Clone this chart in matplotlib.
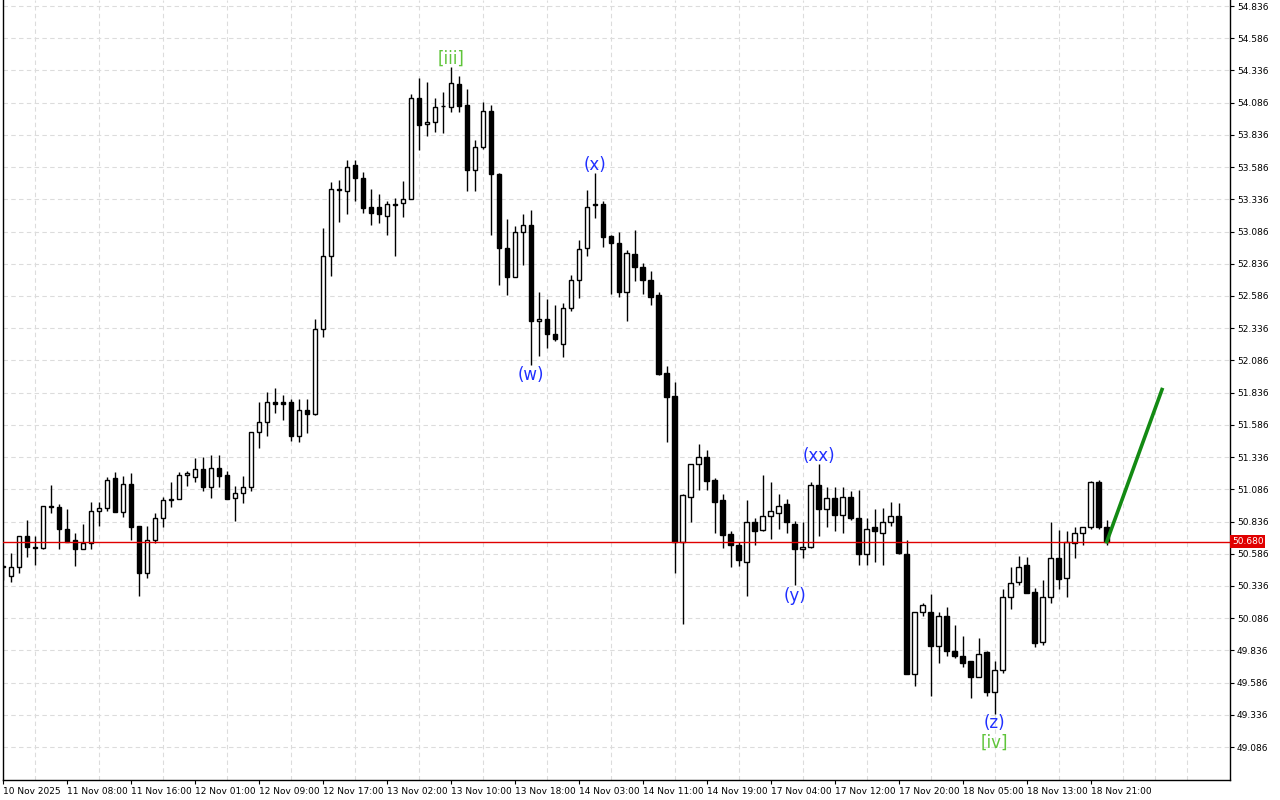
import numpy as np
import matplotlib.pyplot as plt

# hourly candles, open / high / low / close
opens = [50.48, 50.41, 50.48, 50.72, 50.64, 50.63, 50.96, 50.95, 50.78, 50.69,
         50.62, 50.67, 50.92, 50.94, 51.17, 50.91, 51.13, 50.80, 50.44, 50.69,
         50.86, 51.00, 51.01, 51.20, 51.18, 51.24, 51.10, 51.25, 51.20, 51.02,
         51.06, 51.10, 51.53, 51.61, 51.76, 51.76, 51.76, 51.50, 51.70, 51.67,
         52.33, 52.90, 53.41, 53.40, 53.60, 53.50, 53.28, 53.28, 53.21, 53.30,
         53.31, 53.34, 54.12, 53.92, 53.94, 54.06, 54.05, 54.23, 54.07, 53.56,
         53.74, 54.02, 53.53, 52.96, 52.73, 53.08, 53.14, 52.39, 52.41, 52.29,
         52.21, 52.49, 52.71, 52.96, 53.29, 53.30, 53.05, 53.00, 52.62, 52.91,
         52.81, 52.71, 52.59, 51.99, 51.81, 50.68, 51.03, 51.28, 51.34, 51.16,
         51.00, 50.74, 50.65, 50.52, 50.83, 50.77, 50.88, 50.90, 50.97, 50.82,
         50.62, 50.64, 51.12, 50.93, 51.02, 50.89, 51.03, 50.86, 50.58, 50.79,
         50.75, 50.83, 50.88, 50.58, 49.65, 50.13, 50.13, 49.87, 50.10, 49.83,
         49.79, 49.75, 49.63, 49.82, 49.51, 49.68, 50.25, 50.37, 50.50, 50.29,
         49.90, 50.25, 50.55, 50.40, 50.67, 50.75, 50.79, 51.14, 50.79]
highs = [50.50, 50.59, 50.72, 50.85, 50.72, 50.96, 51.12, 50.97, 50.93, 50.75,
         50.82, 50.99, 50.99, 51.18, 51.22, 51.19, 51.21, 50.80, 50.80, 50.90,
         51.03, 51.14, 51.22, 51.23, 51.33, 51.34, 51.35, 51.35, 51.23, 51.11,
         51.19, 51.53, 51.76, 51.84, 51.87, 51.82, 51.79, 51.79, 51.79, 52.41,
         53.11, 53.47, 53.49, 53.64, 53.64, 53.55, 53.42, 53.38, 53.32, 53.35,
         53.48, 54.15, 54.28, 54.25, 54.12, 54.17, 54.36, 54.29, 54.19, 53.80,
         54.09, 54.07, 53.54, 53.18, 53.13, 53.22, 53.25, 52.62, 52.56, 52.52,
         52.53, 52.75, 53.02, 53.41, 53.54, 53.32, 53.06, 53.08, 52.94, 53.10,
         52.84, 52.78, 52.62, 52.04, 51.92, 51.05, 51.28, 51.44, 51.39, 51.17,
         51.05, 50.76, 50.68, 51.00, 50.86, 51.20, 51.14, 51.05, 51.01, 50.84,
         50.83, 51.14, 51.28, 51.10, 51.10, 51.10, 51.07, 51.08, 50.86, 50.93,
         50.94, 50.99, 50.98, 50.69, 50.13, 50.20, 50.27, 50.13, 50.17, 50.03,
         49.95, 49.75, 49.93, 49.83, 49.75, 50.31, 50.48, 50.57, 50.56, 50.32,
         50.38, 50.83, 50.77, 50.76, 50.79, 50.79, 51.15, 51.16, 50.85]
lows = [50.38, 50.37, 50.44, 50.56, 50.50, 50.62, 50.90, 50.62, 50.68, 50.49,
        50.62, 50.62, 50.80, 50.92, 50.91, 50.87, 50.69, 50.26, 50.40, 50.67,
        50.79, 50.95, 51.01, 51.11, 51.14, 51.07, 51.02, 51.10, 51.01, 50.84,
        50.98, 51.07, 51.41, 51.50, 51.68, 51.62, 51.46, 51.45, 51.52, 51.66,
        52.27, 52.74, 53.16, 53.22, 53.32, 53.23, 53.14, 53.15, 53.06, 52.90,
        53.20, 53.34, 53.72, 53.83, 53.86, 53.85, 54.01, 54.01, 53.40, 53.40,
        53.73, 53.06, 52.67, 52.59, 52.73, 52.83, 52.05, 52.12, 52.18, 52.24,
        52.11, 52.47, 52.57, 52.90, 53.19, 52.97, 52.60, 52.58, 52.39, 52.70,
        52.60, 52.52, 51.97, 51.45, 50.44, 50.04, 50.83, 51.08, 51.08, 50.75,
        50.63, 50.48, 50.49, 50.26, 50.65, 50.76, 50.70, 50.78, 50.75, 50.34,
        50.55, 50.63, 50.72, 50.79, 50.76, 50.75, 50.85, 50.50, 50.50, 50.52,
        50.50, 50.80, 50.58, 49.65, 49.56, 50.10, 49.48, 49.74, 49.79, 49.78,
        49.71, 49.47, 49.63, 49.48, 49.34, 49.66, 50.16, 50.34, 50.28, 49.86,
        49.88, 50.20, 50.31, 50.25, 50.55, 50.65, 50.78, 50.78, 50.65]
closes = [50.49, 50.48, 50.72, 50.64, 50.63, 50.96, 50.95, 50.78, 50.68, 50.62,
          50.67, 50.92, 50.94, 51.16, 50.91, 51.13, 50.79, 50.44, 50.69, 50.86,
          51.00, 51.01, 51.20, 51.21, 51.24, 51.10, 51.25, 51.19, 51.01, 51.06,
          51.10, 51.53, 51.61, 51.76, 51.75, 51.75, 51.50, 51.70, 51.67, 52.33,
          52.90, 53.42, 53.42, 53.59, 53.50, 53.27, 53.23, 53.22, 53.30, 53.29,
          53.34, 54.12, 53.91, 53.94, 54.05, 54.06, 54.24, 54.06, 53.56, 53.74,
          54.02, 53.53, 52.96, 52.73, 53.08, 53.14, 52.39, 52.41, 52.29, 52.25,
          52.49, 52.71, 52.95, 53.28, 53.30, 53.04, 53.00, 52.62, 52.92, 52.81,
          52.71, 52.58, 51.98, 51.80, 50.68, 51.04, 51.28, 51.34, 51.15, 50.99,
          50.73, 50.65, 50.54, 50.83, 50.76, 50.88, 50.92, 50.96, 50.83, 50.62,
          50.64, 51.12, 50.93, 51.02, 50.89, 51.03, 50.86, 50.58, 50.78, 50.76,
          50.83, 50.88, 50.59, 49.65, 50.13, 50.19, 49.87, 50.10, 49.83, 49.79,
          49.74, 49.63, 49.81, 49.51, 49.68, 50.25, 50.36, 50.48, 50.28, 49.89,
          50.25, 50.55, 50.39, 50.68, 50.75, 50.79, 51.14, 50.79, 50.68]

time_labels = ["10 Nov 2025", "11 Nov 08:00", "11 Nov 16:00", "12 Nov 01:00",
               "12 Nov 09:00", "12 Nov 17:00", "13 Nov 02:00", "13 Nov 10:00",
               "13 Nov 18:00", "14 Nov 03:00", "14 Nov 11:00", "14 Nov 19:00",
               "17 Nov 04:00", "17 Nov 12:00", "17 Nov 20:00", "18 Nov 05:00",
               "18 Nov 13:00", "18 Nov 21:00"]

current_price = 50.680
forecast_x = [138, 144.9]
forecast_y = [50.680, 51.86]

# wave labels: (text, candle, price, colour)
wave_labels = [("[iii]", 56, 54.43, "#5fc43a"), ("(w)", 66, 51.97, "#1f2fff"),
               ("(x)", 74, 53.60, "#1f2fff"), ("(xx)", 102, 51.345, "#1f2fff"),
               ("(y)", 99, 50.26, "#1f2fff"), ("(z)", 124, 49.27, "#1f2fff"),
               ("[iv]", 124, 49.12, "#5fc43a")]

o = np.array(opens); h = np.array(highs); l = np.array(lows); c = np.array(closes)
x = np.arange(len(o))

fig = plt.figure(figsize=(12.8, 8), dpi=100)
ax = fig.add_axes([3 / 1280, 20 / 800, 1227 / 1280, 780 / 800])

ax.set_xlim(0, 153.4)
ax.set_ylim(48.830, 54.883)

ax.vlines(x, l, h, color="black", linewidth=1, zorder=3)
bull = c >= o
body = np.maximum(np.abs(c - o), 0.004)
ax.bar(x[bull], body[bull], bottom=np.minimum(o, c)[bull], width=0.6,
       facecolor="white", edgecolor="black", linewidth=1, zorder=4)
ax.bar(x[~bull], body[~bull], bottom=np.minimum(o, c)[~bull], width=0.6,
       facecolor="black", edgecolor="black", linewidth=1, zorder=4)

ax.axhline(current_price, color="#e00000", linewidth=1, zorder=5)
ax.plot(forecast_x, forecast_y, color="#138a13", linewidth=2.6, zorder=6)

for txt, xi, yi, col in wave_labels:
    ax.text(xi, yi, txt, color=col, fontsize=12, ha="center", va="center", zorder=7)

# axes styling
yt = np.arange(49.086, 54.84, 0.25)
ax.set_yticks(yt)
ax.set_yticklabels([f"{v:.3f}" for v in yt])
ax.yaxis.tick_right()
ax.set_xticks(np.arange(0, 8 * len(time_labels), 8))
ax.set_xticklabels(time_labels, ha="left")
ax.set_xticks(np.arange(0, 150, 4), minor=True)
ax.tick_params(axis="both", labelsize=6.5, length=3, width=0.8, pad=2)
ax.tick_params(axis="x", which="minor", length=0)
ax.grid(True, which="both", color="#dcdcdc", linestyle=(0, (4, 3)), linewidth=0.8)
ax.grid(False, axis="x", which="major")
ax.set_axisbelow(True)
for side in ["top"]:
    ax.spines[side].set_visible(False)
for side in ["left", "right", "bottom"]:
    ax.spines[side].set_linewidth(1)

ax.text(1.0015, current_price, f"{current_price:.3f}", transform=ax.get_yaxis_transform(),
        fontsize=6.5, color="white", va="center", ha="left",
        bbox=dict(boxstyle="square,pad=0.2", facecolor="#e00000", edgecolor="none"), zorder=8)

fig.savefig("out.png", dpi=100)
